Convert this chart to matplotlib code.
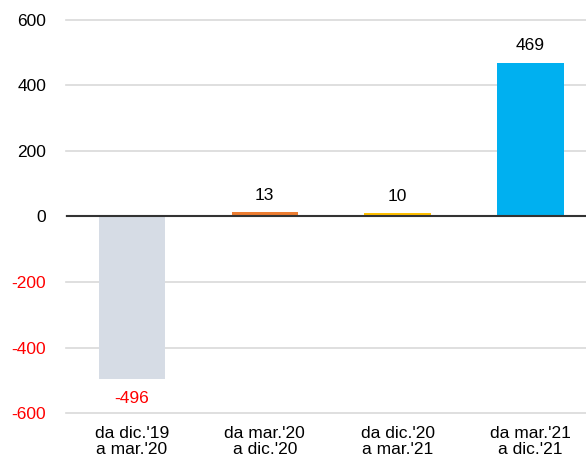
import matplotlib.pyplot as plt
import numpy as np

plt.rcParams['font.family'] = ['Liberation Sans', 'DejaVu Sans']

# dati
categorie = ["da dic.'19\na mar.'20", "da mar.'20\na dic.'20",
             "da dic.'20\na mar.'21", "da mar.'21\na dic.'21"]
valori = [-496, 13, 10, 469]
colori = ['#D6DCE5', '#ED7D31', '#FFC000', '#00B0F0']
yticks = [-600, -400, -200, 0, 200, 400, 600]

fig = plt.figure(figsize=(5.86, 4.61), dpi=100)
ax = fig.add_axes([65.6/586, 1 - 413/461, 1 - 65.6/586, 393/461])

x = np.arange(len(valori))
ax.bar(x, valori, width=0.5, color=colori, zorder=3)

fs = 12.5
# etichette dei valori
for xi, v in zip(x, valori):
    if v < 0:
        ax.text(xi, v - 37, str(v), ha='center', va='top', fontsize=fs, color='red')
    else:
        ax.text(xi, v + 29, str(v), ha='center', va='bottom', fontsize=fs, color='black')

ax.set_ylim(-600, 600)
ax.set_xlim(-0.5, 3.5 - (596.8 - 586) / 132.8)
ax.set_yticks(yticks)
ax.set_yticklabels([str(t) for t in yticks], fontsize=fs)
for lab, t in zip(ax.get_yticklabels(), yticks):
    lab.set_color('red' if t < 0 else 'black')
ax.set_xticks(x)
ax.set_xticklabels(categorie, fontsize=fs, linespacing=1.1)

ax.grid(axis='y', color='#D9D9D9', linewidth=1.2, zorder=0)
for gl in ax.get_ygridlines():
    gl.set_clip_on(False)
ax.axhline(0, color='#333333', linewidth=1.5, zorder=4)
ax.tick_params(axis='y', length=0, pad=14)
ax.tick_params(axis='x', length=0, pad=9)
for s in ax.spines.values():
    s.set_visible(False)

fig.savefig('out.png', dpi=100)
